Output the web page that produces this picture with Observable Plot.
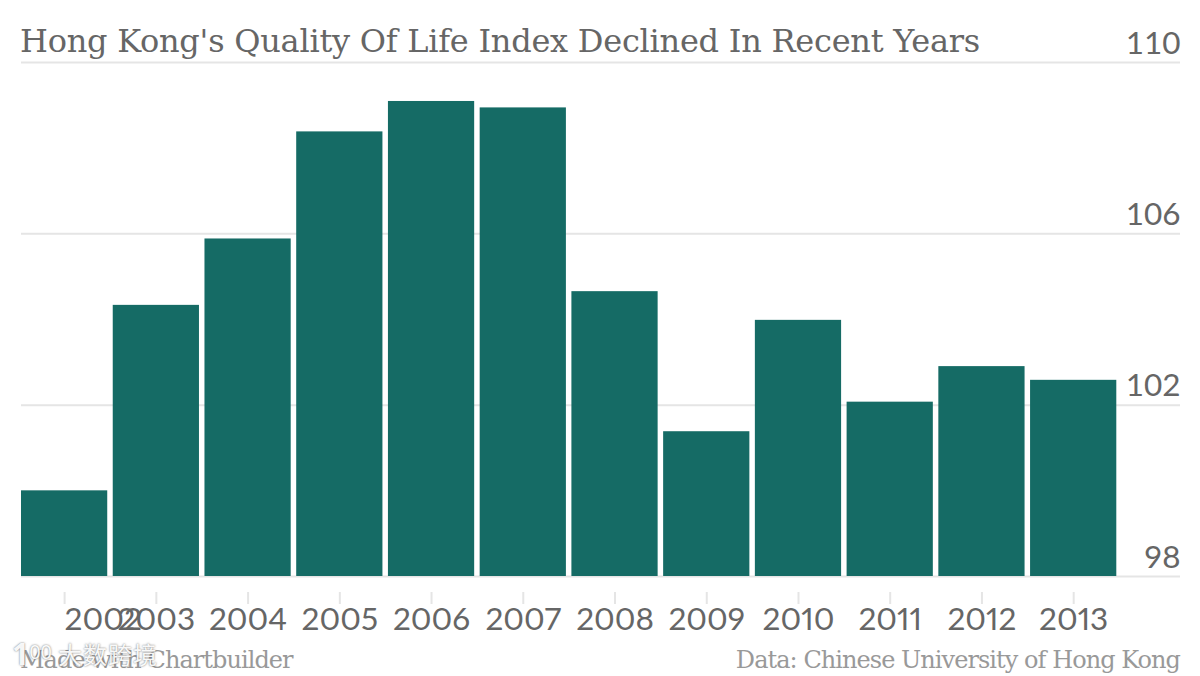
<!DOCTYPE html>
<html><head><meta charset="utf-8">
<script src="https://cdn.jsdelivr.net/npm/d3@7"></script>
<script src="https://cdn.jsdelivr.net/npm/@observablehq/plot@0.6"></script>
<style>
html,body{margin:0;padding:0;background:#fff;width:1200px;height:676px;overflow:hidden}
#wrap{position:relative;width:1200px;height:676px}
#chart{position:absolute;left:0;top:0}
.t{position:absolute;white-space:nowrap;font-family:"DejaVu Serif",serif}
#title{left:20px;top:20px;font-size:32px;line-height:42px;color:#666;letter-spacing:-.25px}
#made{left:20px;top:645px;font-size:24px;line-height:30px;color:#999;letter-spacing:-.95px}
#source{right:20px;top:645px;font-size:24px;line-height:30px;color:#999;letter-spacing:-.95px}
#mark{left:58px;top:638px;font-family:"Noto Sans CJK SC";font-size:24px;line-height:32px;letter-spacing:1px;color:rgba(255,255,255,.95);text-shadow:0 0 2px rgba(90,90,90,.9)}
#logo{left:12px;top:634px;font-family:"Noto Sans";font-weight:700;font-size:30px;line-height:36px;color:rgba(255,255,255,.95);text-shadow:0 0 2px rgba(90,90,90,.9)}
#logo span{font-size:20px;vertical-align:6px;font-weight:400}
</style></head><body>
<div id="wrap">
<div id="chart"></div>
<div class="t" id="title">Hong Kong's Quality Of Life Index Declined In Recent Years</div>
<div class="t" id="made">Made with Chartbuilder</div>
<div class="t" id="source">Data: Chinese University of Hong Kong</div>
<div class="t" id="logo">1<span>00</span></div>
<div class="t" id="mark">大数跨境</div>
</div>
<script>
const years = [2002,2003,2004,2005,2006,2007,2008,2009,2010,2011,2012,2013];
const index = [100.0,104.33,105.88,108.38,109.09,108.94,104.65,101.38,103.98,102.07,102.9,102.58];
const yTicks = [98,102,106,110];
const rows = years.map((year,i)=>({year,value:index[i]}));
const yearLabel = d3.format("d");
const chart = Plot.plot({
  width:1200,height:676,marginTop:62,marginBottom:100,marginLeft:15.5,marginRight:78.2,
  style:{background:"transparent",fontFamily:"Lato",overflow:"visible",fontVariantNumeric:"proportional-nums"},
  x:{type:"band",domain:years,padding:0.06,round:false,label:null},
  y:{domain:[98,110],label:null},
  marks:[
    Plot.ruleY(yTicks,{y:d=>d,stroke:"#e5e5e5",strokeWidth:2,insetLeft:5.5,insetRight:-58.2}),
    Plot.barY(rows,{x:"year",y1:()=>98,y2:"value",fill:"#156b65"}),
    Plot.axisX({ticks:years,tickSize:12,dy:16,text:null,stroke:"#e5e5e5",strokeWidth:2,label:null}),
    Plot.axisX({ticks:[2002],tickSize:0,tickPadding:0,tickFormat:yearLabel,textAnchor:"start",dy:31,lineAnchor:"top",fontSize:31.5,fill:"#666",label:null}),
    Plot.axisX({ticks:years.slice(1),tickSize:0,tickPadding:0,tickFormat:yearLabel,dy:31,lineAnchor:"top",fontSize:31.5,fill:"#666",label:null}),
    Plot.axisY({anchor:"right",ticks:yTicks,tickSize:0,tickPadding:0,textAnchor:"end",lineAnchor:"bottom",dx:58.2,dy:-9,fontSize:31.5,fill:"#666",label:null})
  ]
});
document.getElementById("chart").append(chart);
</script>
</body></html>
